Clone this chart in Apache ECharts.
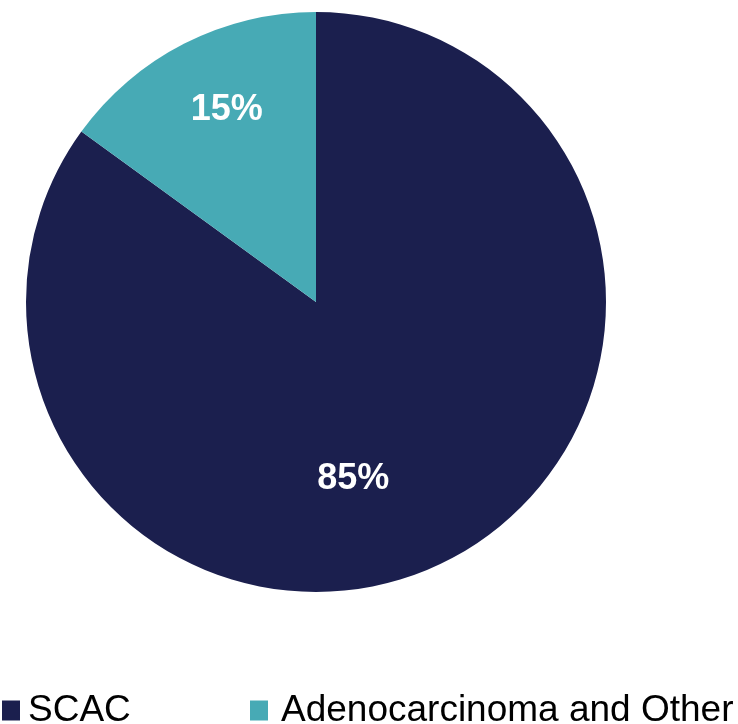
<!DOCTYPE html>
<html>
<head>
<meta charset="utf-8">
<script src="https://cdn.jsdelivr.net/npm/echarts@6/dist/echarts.min.js"></script>
<style>
  html, body { margin: 0; padding: 0; background: #fff; }
  #chart { width: 738px; height: 724px; }
</style>
</head>
<body>
<div id="chart"></div>
<script>
// Share of cases by histology
const categories = ['SCAC', 'Adenocarcinoma and Other'];
const shares = [85, 15];
const colors = ['#1B1F4E', '#47AAB5'];

// label nudges (px) per slice, relative to the default inside position
const labelShift = [[-30, 45], [-22, -60]];

const FONT = 'Liberation Sans, Arial, sans-serif';

function legendFor(name, left, padLeft) {
  return {
    data: [name],
    left: left,
    top: 692,
    padding: 0,
    itemWidth: 18,
    itemHeight: 20,
    icon: 'rect',
    textStyle: {
      fontFamily: FONT,
      fontSize: 37,
      color: '#000',
      padding: [0, 0, 0, padLeft]
    }
  };
}

const chart = echarts.init(document.getElementById('chart'), null, { renderer: 'canvas' });

chart.setOption({
  animation: false,
  color: colors,
  legend: [
    legendFor(categories[0], 2, 3),
    legendFor(categories[1], 250, 8)
  ],
  series: [{
    type: 'pie',
    center: [316, 302],
    radius: [0, 290],
    startAngle: 90,
    clockwise: true,
    silent: true,
    data: categories.map((name, i) => ({ name, value: shares[i] })),
    label: {
      show: true,
      position: 'inside',
      formatter: p => p.value + '%',
      color: '#fff',
      fontFamily: FONT,
      fontWeight: 'bold',
      fontSize: 36
    },
    labelLine: { show: false },
    labelLayout: p => ({ dx: labelShift[p.dataIndex][0], dy: labelShift[p.dataIndex][1] }),
    itemStyle: { borderWidth: 0 }
  }]
});
</script>
</body>
</html>
